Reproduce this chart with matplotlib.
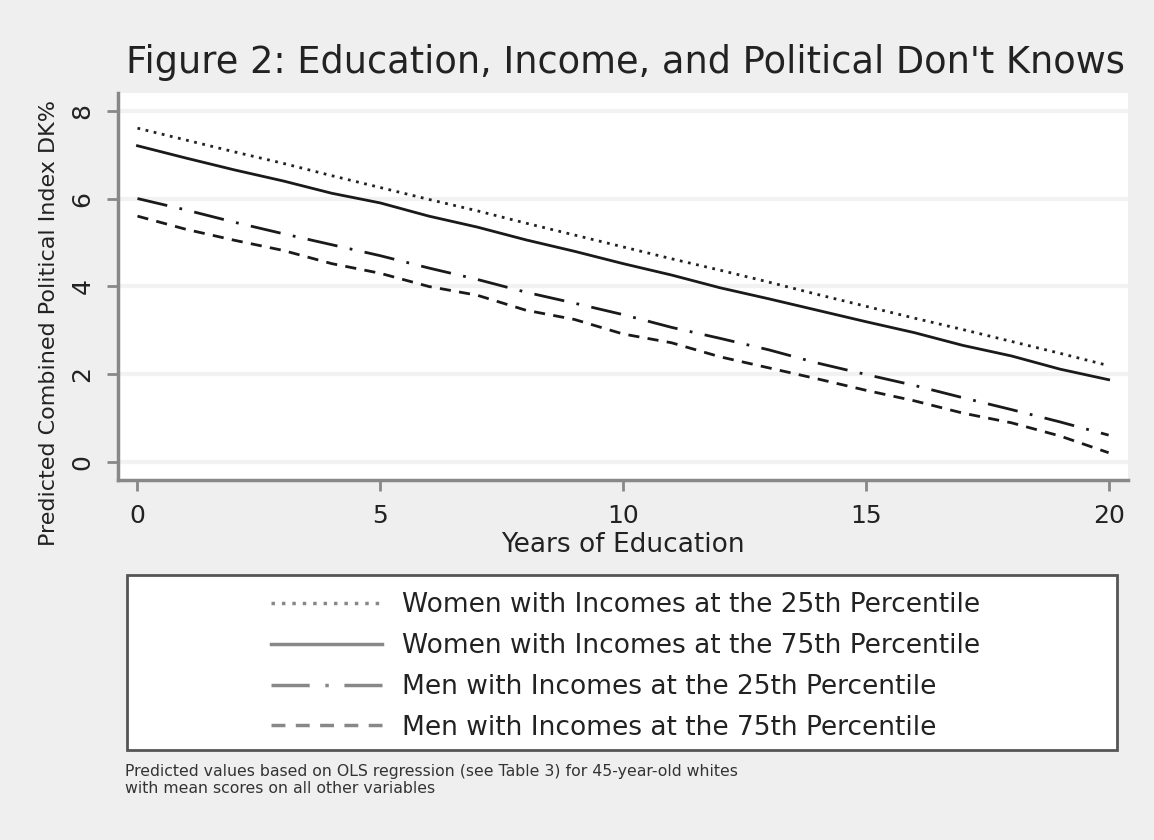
import matplotlib.pyplot as plt
from matplotlib.patches import Rectangle

years = list(range(21))
women_25 = [7.6, 7.33, 7.06, 6.8, 6.52, 6.25, 5.98, 5.72, 5.44, 5.17, 4.9,
            4.63, 4.37, 4.1, 3.82, 3.55, 3.28, 3.02, 2.75, 2.48, 2.2]
women_75 = [7.2, 6.92, 6.65, 6.4, 6.12, 5.9, 5.6, 5.35, 5.06, 4.8, 4.52,
            4.26, 3.97, 3.72, 3.46, 3.2, 2.95, 2.66, 2.42, 2.12, 1.88]
men_25 = [6.0, 5.74, 5.46, 5.2, 4.95, 4.7, 4.42, 4.16, 3.87, 3.62, 3.36,
          3.07, 2.82, 2.56, 2.26, 2.0, 1.75, 1.47, 1.2, 0.92, 0.62]
men_75 = [5.6, 5.3, 5.05, 4.82, 4.52, 4.3, 4.0, 3.8, 3.46, 3.25, 2.92,
          2.72, 2.4, 2.15, 1.9, 1.64, 1.4, 1.12, 0.9, 0.6, 0.22]
labels = ['Women with Incomes at the 25th Percentile',
          'Women with Incomes at the 75th Percentile',
          'Men with Incomes at the 25th Percentile',
          'Men with Incomes at the 75th Percentile']

bg = '#efefef'
fig = plt.figure(figsize=(11.54, 8.4), dpi=100, facecolor=bg)
ax = fig.add_axes([0.1023, 0.4286, 0.8752, 0.4607])
ax.set_facecolor('white')

for y in [0, 2, 4, 6, 8]:
    ax.axhline(y, color='#f2f2f2', lw=3, zorder=0)

lw = 2.0
ax.plot(years, women_25, color='#222222', lw=lw, ls=(0, (1, 2.0)), label=labels[0])
ax.plot(years, women_75, color='#1a1a1a', lw=lw, ls='-', label=labels[1])
ax.plot(years, men_25, color='#1a1a1a', lw=lw, ls=(0, (11, 4.5, 1, 4.5)), label=labels[2])
ax.plot(years, men_75, color='#1a1a1a', lw=lw, ls=(0, (4, 3)), label=labels[3])

ax.set_xlim(-0.4, 20.4)
ax.set_ylim(-0.4, 8.4)
ax.set_xticks([0, 5, 10, 15, 20])
ax.set_yticks([0, 2, 4, 6, 8])
for s in ['top', 'right']:
    ax.spines[s].set_visible(False)
for s in ['left', 'bottom']:
    ax.spines[s].set_color('#888888')
    ax.spines[s].set_linewidth(2.5)
ax.tick_params(colors='#888888', width=2, length=8, labelcolor='#222222',
               labelsize=18, pad=9)
plt.setp(ax.get_yticklabels(), rotation=90, va='center')

ax.set_xlabel('Years of Education', fontsize=19, color='#222222', labelpad=3)
ax.set_ylabel('Predicted Combined Political Index DK%', fontsize=16,
              color='#222222')
ax.yaxis.set_label_coords(-0.058, 0.405)
fig.text(0.542, 0.926, "Figure 2: Education, Income, and Political Don't Knows",
         ha='center', va='center', fontsize=26.5, color='#222222')

# legend box
fig.patches.append(Rectangle((0.110, 0.107), 0.858, 0.209, transform=fig.transFigure,
                             facecolor='white', edgecolor='#555555', lw=2))
leg = fig.legend(loc='center', bbox_to_anchor=(0.542, 0.2065), frameon=False,
                 fontsize=19, handlelength=4.2, handletextpad=0.75, labelspacing=0.56)
for h in leg.get_lines():
    h.set_color('#888888')
    h.set_linewidth(2.5)
for t in leg.get_texts():
    t.set_color('#222222')

fig.text(0.108, 0.071, 'Predicted values based on OLS regression (see Table 3) for 45-year-old whites\n'
         'with mean scores on all other variables', ha='left', va='center',
         fontsize=11.3, color='#333333', linespacing=1.15)

plt.savefig('out.png', dpi=100, facecolor=bg)
